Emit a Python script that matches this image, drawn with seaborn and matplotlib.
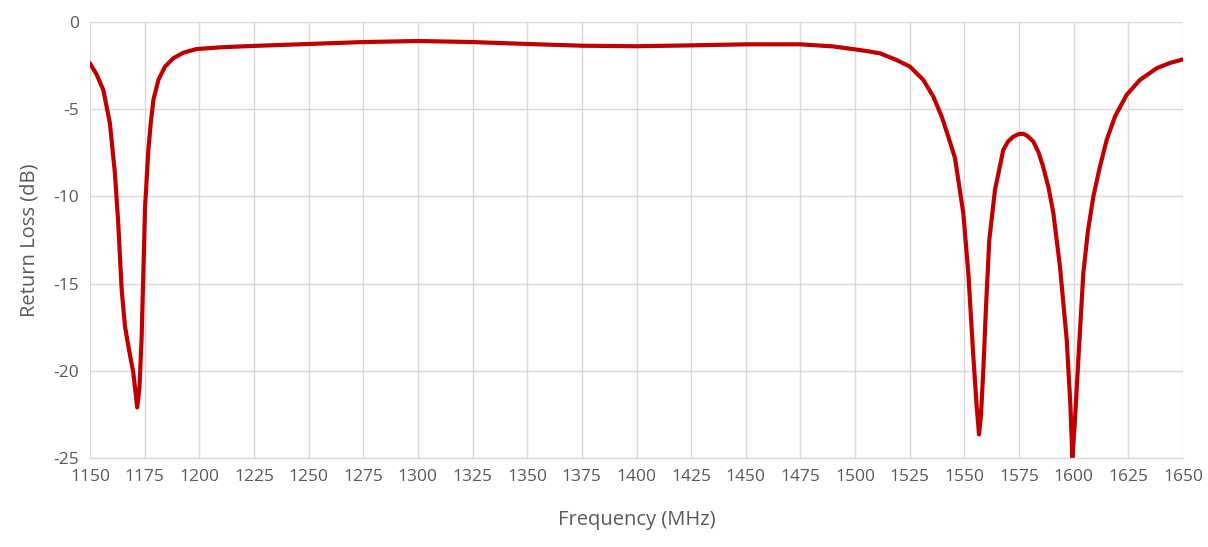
import matplotlib
matplotlib.use("Agg")
import matplotlib.pyplot as plt
import seaborn as sns
import pandas as pd

freq_mhz = [1150, 1153, 1156.1, 1159.1, 1161.4, 1162.9, 1164.5, 1166.0, 1168.0, 1169.8,
            1171.6, 1172.6, 1173.6, 1174.4, 1175.2, 1176.7, 1177.8, 1179.0, 1181.3, 1184.3,
            1188.1, 1192.7, 1198.8, 1210, 1225, 1250, 1275, 1300, 1325, 1350, 1375, 1400,
            1425, 1450, 1475, 1490, 1500, 1506, 1511.4, 1519.0, 1525.1, 1531.2, 1535.8,
            1539.6, 1542.6, 1545.7, 1549.5, 1551.8, 1554.1, 1555.6, 1556.7, 1557.6, 1558.6,
            1559.9, 1561.4, 1564.0, 1567.8, 1570.0, 1572.4, 1575.0, 1577.0, 1579.0, 1581.5,
            1584.0, 1586.0, 1588.5, 1590.7, 1593.7, 1596.8, 1598.5, 1599.4, 1600.5, 1602.2,
            1604.4, 1606.5, 1609.0, 1612.0, 1615.1, 1618.9, 1624.2, 1630.3, 1638.0, 1644.0,
            1650]
return_loss_db = [-2.37, -3.0, -3.9, -5.8, -8.67, -11.5, -15.35, -17.45, -18.9, -20.1,
                  -22.1, -21.0, -18.2, -14.4, -10.6, -7.33, -5.8, -4.47, -3.32, -2.56,
                  -2.08, -1.76, -1.55, -1.45, -1.37, -1.26, -1.15, -1.09, -1.15, -1.26, -1.36, -1.39,
                  -1.34, -1.28, -1.28, -1.4, -1.57, -1.68, -1.8, -2.18, -2.56, -3.32, -4.28,
                  -5.42, -6.56, -7.8, -10.96, -14.4, -19.2, -22.0, -23.65, -22.5, -20.1,
                  -16.3, -12.48, -9.62, -7.33, -6.85, -6.57, -6.42, -6.41, -6.55, -6.85,
                  -7.5, -8.29, -9.5, -10.96, -14.0, -18.2, -22.0, -25.0, -23.0, -19.2,
                  -14.4, -12.0, -10.0, -8.3, -6.76, -5.42, -4.18, -3.32, -2.65, -2.35,
                  -2.14]

x_ticks = list(range(1150, 1651, 25))
y_ticks = [0, -5, -10, -15, -20, -25]

sns.set_theme(style="white")
plt.rcParams['font.family'] = ['Open Sans', 'DejaVu Sans']

df = pd.DataFrame({"Frequency (MHz)": freq_mhz, "Return Loss (dB)": return_loss_db})

fig = plt.figure(figsize=(12.08, 5.47), dpi=100)
ax = fig.add_axes([90/1208, 1 - 458/547, (1183-90)/1208, (458-22)/547])

sns.lineplot(data=df, x="Frequency (MHz)", y="Return Loss (dB)", ax=ax,
             color="#C00000", linewidth=3.0, solid_capstyle="round", solid_joinstyle="round")

ax.set_xlim(1150, 1650)
ax.set_ylim(-25, 0)
ax.set_xticks(x_ticks)
ax.set_yticks(y_ticks)
ax.set_xticklabels([str(t) for t in x_ticks])
ax.set_yticklabels([str(t) for t in y_ticks])
ax.grid(True, color="#D9D9D9", linewidth=1.0)
ax.set_axisbelow(True)
for s in ["top", "right", "left"]:
    ax.spines[s].set_visible(False)
ax.spines["bottom"].set_color("#D9D9D9")
ax.spines["bottom"].set_linewidth(1.0)
ax.tick_params(axis="both", length=0, labelsize=12.5, labelcolor="#595959", pad=8)

ax.set_xlabel("Frequency (MHz)", fontsize=14.5, color="#595959", labelpad=18)
ax.set_ylabel("Return Loss (dB)", fontsize=14.5, color="#595959", labelpad=10)

fig.savefig("out.png", dpi=100, facecolor="white")
